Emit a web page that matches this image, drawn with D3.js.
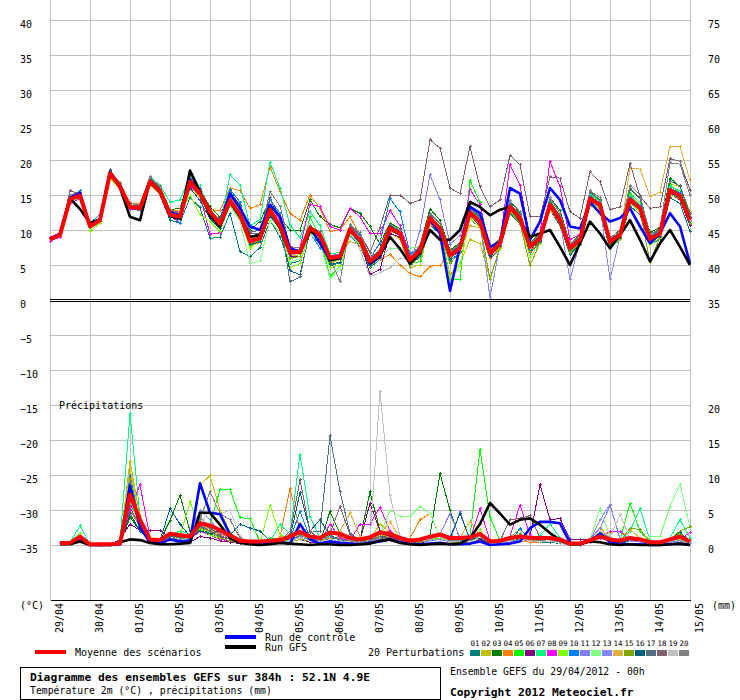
<!DOCTYPE html>
<html>
<head>
<meta charset="utf-8">
<script src="https://cdn.jsdelivr.net/npm/d3@7"></script>
<style>
body{margin:0;background:#fff;}
svg{display:block;font-family:"DejaVu Sans Mono",monospace;}
</style>
</head>
<body>
<div id="chart"></div>
<script>
// day labels, one per 24h
const dayLabels=["29/04","30/04","01/05","02/05","03/05","04/05","05/05","06/05","07/05",
    "08/05","09/05","10/05","11/05","12/05","13/05","14/05","15/05"];

// temperature 2m (°C), every 6h from 0h to 384h
const tempMean=[8.7,9.3,14.4,14.9,10.5,11.4,18.1,16.2,13.3,13.1,16.9,15.5,12.2,
    11.9,16.9,15.2,12.6,10.9,14.2,12.2,8.4,8.8,12.9,10.6,6.8,6.9,
    10.3,9.3,6.0,6.2,10.1,8.6,5.5,6.7,10.3,9.5,5.7,7.1,11.7,
    10.2,6.4,7.4,12.5,11.2,6.7,8.1,13.3,11.7,7.6,8.8,13.6,11.4,
    7.4,8.6,14.5,13.6,8.3,9.3,14.4,13.1,8.7,9.5,15.7,14.9,11.4];
const tempCtrl=[8.8,9.4,14.6,15.3,10.6,11.6,18.3,16.4,13.2,13.0,17.0,15.6,12.5,
    12.1,17.2,15.4,12.4,11.0,15.2,13.1,10.5,10.0,13.6,11.9,7.4,6.9,
    10.3,8.1,5.7,6.2,10.0,8.6,5.2,6.2,10.5,9.5,5.5,7.4,11.4,
    9.5,1.3,7.6,13.3,12.4,7.6,8.3,16.0,15.2,8.6,11.2,16.0,14.3,
    10.5,10.2,14.0,12.4,11.2,11.7,13.1,10.5,8.1,9.5,12.4,10.5,5.2];
const tempGfs=[8.7,9.4,14.5,13.0,11.0,11.5,18.3,16.0,11.9,11.4,17.0,15.6,12.0,
    11.6,18.5,15.5,12.0,10.5,14.0,12.0,9.0,9.3,12.8,10.3,6.7,6.8,
    9.8,9.3,5.7,6.0,10.0,8.4,5.3,6.4,9.0,7.3,5.2,6.7,10.0,
    8.6,8.6,10.0,14.0,13.3,12.1,12.9,13.3,11.4,9.0,9.5,10.0,7.6,
    5.0,8.1,11.2,9.5,7.4,9.3,11.4,8.6,5.5,8.1,10.0,7.6,5.0];
const tempPert=[
    // 01
    [8.6,9.2,14.2,14.8,10.3,11.2,17.8,15.9,13.0,12.8,16.5,15.0,11.4,
     11.0,14.6,13.2,8.8,9.0,12.4,6.9,6.2,7.5,11.4,9.0,5.2,5.6,
     9.4,8.1,4.9,5.3,9.2,7.6,4.6,5.8,9.5,8.8,4.9,6.2,10.8,
     9.4,5.6,6.8,11.6,10.3,5.9,7.3,12.4,10.8,6.8,8.2,12.9,10.6,
     6.5,7.9,13.6,12.5,7.4,8.6,13.4,12.2,7.9,8.7,14.6,13.8,9.8],
    // 02
    [8.8,9.4,14.5,15.0,10.6,11.5,17.6,16.8,13.6,13.4,17.2,15.9,12.7,
     12.3,16.2,14.6,12.0,10.4,13.5,11.6,7.8,8.2,12.1,10.0,6.2,6.5,
     9.6,8.8,5.2,5.8,9.6,7.8,4.8,6.1,9.6,8.7,4.6,5.0,10.9,
     9.6,3.6,5.3,8.6,8.1,3.0,7.6,12.9,11.2,7.2,8.4,13.2,11.0,
     6.9,8.1,14.0,13.2,7.8,8.8,14.0,12.7,8.2,9.2,16.6,16.2,12.6],
    // 03
    [8.9,9.5,14.6,15.1,10.7,11.6,18.4,16.5,13.4,13.3,17.4,15.8,12.9,
     13.1,17.4,15.8,13.3,11.8,15.6,13.4,10.0,11.2,14.4,11.8,10.0,10.0,
     14.3,11.9,10.8,10.3,13.1,12.4,10.5,8.0,11.0,10.2,6.0,7.8,13.0,
     11.4,7.1,8.2,13.6,12.0,7.4,8.9,14.2,12.4,8.2,9.4,14.6,12.8,
     8.0,9.4,15.4,14.3,8.8,10.0,15.8,14.6,9.6,10.4,17.4,16.2,12.0],
    // 04
    [8.7,9.3,14.3,14.9,10.5,11.4,17.9,16.6,13.9,13.7,17.3,16.3,12.9,
     12.7,17.8,15.7,12.9,12.8,16.0,15.6,13.1,13.6,19.0,15.5,12.4,11.4,
     15.0,13.1,9.8,10.0,11.9,9.2,6.8,5.8,6.5,5.0,3.8,3.3,4.8,
     5.0,6.6,7.3,11.6,10.4,6.0,7.5,12.6,11.0,7.0,8.2,12.9,10.9,
     6.9,8.3,14.2,13.4,8.4,9.0,14.8,13.5,9.0,9.9,15.4,14.4,10.8],
    // 05
    [8.8,9.4,14.4,15.0,10.4,11.5,18.2,16.4,13.5,13.2,17.0,15.4,12.0,
     12.2,17.1,15.5,12.3,10.6,14.6,12.5,7.9,8.4,13.4,10.8,5.9,6.2,
     11.9,9.0,3.3,4.9,9.4,7.9,4.9,6.4,10.8,10.0,5.2,5.5,12.4,
     10.9,2.9,2.9,17.1,13.9,6.9,8.5,13.7,12.0,7.8,9.1,14.1,11.9,
     7.8,9.0,15.0,14.1,8.6,9.6,15.2,13.9,9.4,10.2,16.5,15.3,11.6],
    // 06
    [8.6,9.2,14.3,14.7,10.8,11.7,17.9,16.0,13.6,13.4,16.7,15.2,12.8,
     12.4,16.5,15.0,12.7,10.7,14.1,12.4,8.7,9.0,12.4,10.1,6.3,6.2,
     10.0,9.1,5.8,6.4,9.9,8.6,3.6,4.4,9.5,9.0,5.3,6.6,11.0,
     9.8,6.0,7.0,12.0,10.6,6.2,7.8,12.8,11.4,7.3,8.5,13.0,11.0,
     7.1,8.3,14.2,13.3,8.0,9.0,14.0,12.8,8.4,9.3,15.2,14.3,10.6],
    // 07
    [8.9,9.5,14.7,15.2,10.6,11.6,18.0,16.0,13.8,13.5,17.6,16.4,14.0,
     14.3,17.7,16.3,12.3,10.6,17.9,16.4,10.6,11.5,19.7,16.0,10.7,8.9,
     12.6,10.6,6.6,6.8,10.4,9.6,5.9,6.9,10.0,9.7,5.8,7.6,12.0,
     10.6,6.7,7.7,13.0,11.5,7.0,8.3,13.8,12.2,7.9,9.1,14.3,11.8,
     7.6,8.9,15.2,14.1,8.6,9.6,14.9,13.6,9.1,9.9,16.2,15.6,11.9],
    // 08
    [8.4,9.0,13.8,14.5,10.4,11.3,17.6,15.8,13.0,12.9,16.6,15.4,12.0,
     11.0,16.4,14.9,9.4,9.6,14.8,12.8,8.6,8.9,13.6,11.4,7.6,7.5,
     13.7,13.3,10.5,10.0,13.1,11.9,9.5,9.5,12.8,10.6,6.4,7.5,11.2,
     9.6,6.2,7.4,15.8,13.6,6.9,8.2,19.3,16.4,8.8,9.6,19.8,16.2,
     8.6,9.4,14.8,13.4,8.6,9.2,14.6,13.3,8.9,9.6,16.0,15.1,11.0],
    // 09
    [8.8,9.4,14.0,14.6,9.8,11.0,17.4,15.9,13.5,13.2,16.4,15.0,11.8,
     12.4,15.0,12.2,11.2,9.8,13.6,11.8,7.4,8.6,12.6,10.8,4.6,5.2,
     9.8,8.6,4.6,5.0,9.6,8.2,4.9,6.4,10.6,9.6,5.5,7.4,11.6,
     9.8,3.1,4.9,11.6,10.4,2.9,7.3,12.8,11.2,6.1,8.1,13.0,11.2,
     6.8,8.2,14.0,13.0,7.5,8.6,13.8,12.6,7.9,8.9,15.6,15.0,11.4],
    // 10
    [8.9,9.6,14.6,15.6,11.0,12.2,18.5,16.6,13.6,13.3,17.1,15.9,12.6,
     11.0,17.6,15.9,12.4,11.6,15.8,14.0,9.0,9.6,14.3,12.4,7.2,6.9,
     9.6,7.4,6.2,6.6,10.6,9.2,5.9,8.2,14.5,12.6,6.6,7.6,11.8,
     10.4,6.9,7.8,12.9,11.4,7.1,8.6,13.3,11.9,7.9,9.0,13.8,11.6,
     7.6,8.8,14.8,13.9,8.5,9.5,14.6,13.4,9.0,9.8,16.0,15.3,11.8],
    // 11
    [8.8,9.3,14.2,15.0,10.5,11.3,18.0,16.2,13.4,13.0,16.8,15.4,12.1,
     11.8,16.6,15.1,12.3,10.7,14.3,12.6,8.8,9.1,13.2,10.8,7.1,7.2,
     10.6,9.5,6.4,6.5,10.2,8.8,5.6,7.0,10.2,10.0,5.0,10.0,17.9,
     14.3,8.0,9.2,12.8,11.4,6.6,8.6,13.5,11.9,7.6,8.9,13.9,11.7,
     7.6,8.6,14.7,13.8,8.4,9.4,14.5,13.2,8.8,9.6,15.8,15.0,11.6],
    // 12
    [8.7,9.3,14.4,15.0,10.6,11.4,17.8,16.0,13.4,13.2,16.6,15.2,12.0,
     11.7,16.9,15.6,12.1,10.2,13.4,11.3,5.2,5.6,11.4,9.6,5.4,5.9,
     9.4,8.2,3.1,4.4,9.3,8.0,5.0,6.0,7.4,7.4,7.4,7.6,11.4,
     10.0,6.4,7.4,12.4,11.0,6.8,8.0,13.1,11.5,7.4,8.8,13.4,11.2,
     7.2,8.5,14.4,13.5,8.3,9.2,14.2,13.0,8.5,9.4,15.4,14.6,11.2],
    // 13
    [8.6,9.2,14.3,14.8,10.4,11.3,17.9,16.1,13.2,13.1,16.8,15.4,12.2,
     11.8,16.7,15.2,12.6,10.8,14.2,12.3,8.4,8.8,12.8,10.4,6.7,6.8,
     10.1,9.2,5.8,6.0,9.9,8.4,5.4,6.6,10.0,9.3,5.4,6.9,11.5,
     9.9,6.2,7.2,12.4,11.0,0.3,7.9,13.0,11.4,7.3,8.6,13.4,11.2,
     2.9,8.4,14.3,13.4,2.9,9.1,14.2,12.9,8.5,9.3,15.5,14.7,11.2],
    // 14
    [8.7,9.3,14.5,15.0,10.6,11.5,18.3,16.8,13.8,13.6,17.4,16.0,12.6,
     12.0,17.6,15.8,12.5,11.4,14.9,12.6,8.8,9.0,13.0,10.6,7.0,7.0,
     10.4,9.4,6.2,6.4,8.4,7.8,5.2,6.0,9.8,9.4,6.0,7.0,10.8,
     10.2,6.6,7.2,10.6,10.3,6.4,7.9,12.6,11.2,7.2,8.6,13.2,11.4,
     7.4,8.4,14.0,13.3,8.2,9.1,18.9,18.7,14.8,15.4,22.0,21.9,17.1],
    // 15
    [8.8,9.4,14.4,14.9,10.4,11.4,17.6,16.1,13.5,13.4,17.0,15.5,12.3,
     12.0,16.8,15.2,12.6,10.9,13.9,12.0,8.0,8.4,12.4,10.2,6.0,6.2,
     9.8,8.8,5.4,5.8,9.8,8.4,5.4,6.4,10.4,9.6,4.6,6.8,11.2,
     9.8,5.2,6.8,12.0,10.8,3.0,7.6,12.6,11.0,4.9,8.2,13.1,11.0,
     6.8,8.2,14.2,13.2,7.9,8.8,14.0,12.8,5.4,9.0,15.2,14.4,11.0],
    // 16
    [8.7,9.3,14.6,15.1,10.6,11.4,18.0,16.2,13.2,12.9,16.6,15.1,11.8,
     11.6,16.0,14.2,11.6,10.2,13.8,11.6,7.9,8.3,12.0,10.2,4.2,3.6,
     9.8,8.6,5.1,5.4,9.6,8.2,4.9,6.1,10.0,9.2,5.6,7.0,11.4,
     10.0,6.0,7.2,12.2,10.9,6.4,7.8,13.0,11.4,7.2,8.4,13.3,11.2,
     7.2,8.4,14.3,13.4,8.1,9.0,14.0,12.9,8.4,9.1,15.3,14.6,11.2],
    // 17
    [8.8,9.4,14.8,15.2,10.8,11.6,18.6,16.4,13.6,13.4,17.3,15.8,12.4,
     12.1,17.3,15.5,13.0,11.2,15.4,13.6,9.8,9.9,14.6,11.5,2.6,3.3,
     10.0,9.0,5.6,5.8,10.4,9.4,5.8,7.0,10.8,9.8,6.2,7.6,12.2,
     10.9,6.8,7.8,13.2,11.8,7.0,8.6,13.8,12.2,7.9,9.2,14.2,12.0,
     7.8,9.0,15.4,14.2,8.7,9.7,16.0,14.5,9.2,10.0,17.0,16.3,12.4],
    // 18
    [8.8,9.4,15.6,15.2,10.8,11.5,18.4,16.6,13.6,13.3,17.5,16.0,12.8,
     12.5,17.6,15.6,13.0,11.0,14.9,12.9,9.6,9.4,13.4,11.6,7.2,7.0,
     10.5,9.8,6.4,6.4,10.6,9.6,6.8,10.4,15.0,15.0,13.8,14.3,22.9,
     21.7,16.0,15.2,21.9,16.2,13.3,14.3,20.7,19.3,11.9,11.9,17.6,17.4,
     12.6,11.7,18.3,16.9,12.9,13.3,19.5,14.8,13.1,13.3,20.2,19.8,15.7],
    // 19
    [8.7,9.3,14.3,14.8,10.5,11.3,17.8,16.0,13.1,12.9,16.8,15.3,12.0,
     11.8,16.6,15.0,12.4,10.8,14.0,12.2,8.4,8.8,13.0,10.6,6.8,6.9,
     10.2,9.2,5.9,6.1,9.9,7.2,3.3,3.9,4.6,6.0,5.8,7.0,11.4,
     10.0,6.2,7.2,12.4,11.0,6.6,8.0,13.2,11.6,7.4,8.7,13.5,11.3,
     7.3,8.5,14.4,13.5,8.2,9.2,14.3,13.0,8.6,9.4,15.6,14.8,11.3],
    // 20
    [8.8,9.4,15.0,15.4,10.8,11.6,18.4,16.6,13.8,13.6,17.6,16.2,12.6,
     12.4,17.4,15.8,12.8,11.4,15.0,12.8,9.0,9.4,15.5,13.4,7.6,7.4,
     10.4,9.0,6.0,2.6,10.8,9.6,6.0,7.2,10.6,10.0,6.2,7.8,12.4,
     11.0,7.0,8.0,13.4,12.0,7.2,8.8,14.2,12.6,8.0,9.4,14.6,12.4,
     8.0,9.2,15.6,14.6,8.9,9.9,16.4,15.0,9.4,10.2,19.6,19.4,15.0]
];

// precipitation (mm per 6h), from 6h to 384h
const precMean=[0.3,0.3,1.2,0.1,0.1,0.1,0.2,7.2,3.6,0.8,0.7,1.6,1.4,1.2,3.1,2.8,
    2.1,1.4,0.6,0.5,0.5,0.6,0.7,1.2,1.9,1.2,1.0,1.8,1.6,1.0,0.8,1.1,
    1.8,1.6,1.0,0.6,0.8,1.2,1.5,1.0,1.0,1.1,1.6,0.5,0.6,1.0,1.2,1.0,
    1.0,1.0,0.8,0.2,0.2,0.7,1.2,0.8,0.6,1.0,0.8,0.4,0.4,0.8,1.2,0.5];
const precCtrl=[0.2,0.2,0.6,0.0,0.0,0.0,0.1,8.5,2.5,0.4,0.2,0.8,0.5,0.6,8.8,4.6,
    4.4,1.5,0.5,0.2,0.1,0.2,0.4,0.2,3.0,0.8,0.2,0.5,0.3,0.2,0.1,0.3,
    0.5,0.8,0.4,0.2,0.1,0.2,0.3,0.1,0.1,0.2,0.5,0.0,0.1,0.2,0.5,2.4,
    3.3,3.3,3.1,0.3,0.2,0.6,1.6,0.4,0.2,0.1,0.1,0.0,0.0,0.1,0.2,0.0];
const precGfs=[0.1,0.1,0.5,0.0,0.0,0.0,0.4,0.8,0.7,0.3,0.1,0.1,0.2,0.3,4.6,4.6,
    2.9,1.0,0.3,0.1,0.0,0.1,0.3,0.2,0.1,0.0,0.1,0.1,0.0,0.0,0.1,0.2,
    0.6,0.8,0.3,0.1,0.0,0.1,0.2,0.1,0.2,1.0,3.0,6.0,4.5,2.9,3.6,3.8,
    2.9,1.7,0.7,0.1,0.1,0.5,0.4,0.1,0.0,0.1,0.0,0.0,0.0,0.1,0.2,0.0];
const precPert=[
    // 01
    [0.3,0.3,1.2,0.0,0.0,0.0,0.1,5.5,2.4,0.4,0.3,1.2,1.0,0.8,2.2,1.8,
     1.0,0.6,0.2,0.1,0.1,0.3,0.4,0.8,1.2,0.6,0.4,1.0,0.8,0.4,0.2,0.5,
     1.0,1.4,0.6,0.2,0.4,0.8,1.0,0.4,0.6,0.4,1.2,0.2,0.2,0.6,1.0,0.6,
     0.4,0.4,0.2,0.0,0.0,0.6,1.6,0.4,0.2,0.6,0.4,0.1,0.2,0.6,1.0,0.2],
    // 02
    [0.2,0.2,1.6,0.0,0.0,0.0,0.2,12.0,4.0,0.6,0.4,1.0,0.8,1.2,8.6,9.9,
     5.0,1.8,0.4,0.2,0.2,0.4,0.6,1.0,1.6,0.8,0.6,1.2,1.0,0.6,0.4,0.8,
     3.0,1.8,0.8,0.4,0.6,0.8,1.6,0.6,0.4,0.6,1.4,0.2,0.4,1.2,2.2,1.0,
     0.6,0.8,0.4,0.0,0.0,0.8,2.5,1.0,0.4,0.8,0.6,0.2,0.2,0.8,1.6,0.4],
    // 03
    [0.2,0.2,1.0,0.0,0.0,0.0,0.1,4.0,2.0,0.6,0.6,3.5,7.1,2.0,2.4,1.6,
     1.2,0.8,0.4,0.2,0.1,0.2,0.4,0.6,1.0,0.6,0.4,4.8,1.6,0.6,0.8,7.6,
     2.0,1.0,0.6,0.4,0.6,1.4,10.2,5.0,0.8,0.4,1.0,0.2,0.4,0.6,0.8,0.6,
     0.6,0.8,0.4,0.0,0.0,0.6,1.4,0.6,0.4,1.0,0.8,0.2,0.2,0.4,0.6,0.2],
    // 04
    [0.3,0.3,1.4,0.0,0.0,0.0,0.1,5.0,2.6,0.4,0.2,0.8,0.6,1.0,3.0,2.4,
     1.6,1.0,0.2,0.1,0.1,0.2,1.2,8.1,2.0,0.6,0.4,1.0,1.2,0.6,0.4,0.6,
     1.4,1.2,0.8,1.0,3.6,4.5,1.2,0.4,0.4,0.2,0.8,0.2,0.2,0.4,0.6,0.4,
     0.4,0.6,0.2,0.0,0.0,0.8,1.2,1.8,2.0,0.8,0.6,0.2,0.1,0.4,0.8,0.2],
    // 05
    [0.2,0.2,0.8,0.0,0.0,0.0,0.1,6.0,2.8,0.6,0.4,1.6,1.0,1.4,2.8,3.0,
     7.9,7.9,3.9,3.8,0.4,1.0,0.8,0.6,1.0,0.8,0.4,1.2,0.8,0.6,0.2,0.6,
     1.2,0.8,0.6,0.2,0.4,0.8,1.2,0.4,0.6,1.2,13.7,4.0,0.6,1.0,1.2,0.8,
     0.6,1.0,0.4,0.0,0.0,0.6,1.8,0.8,0.6,6.0,2.0,0.4,0.2,0.6,1.4,0.4],
    // 06
    [0.2,0.2,1.0,0.0,0.0,0.0,0.8,3.0,2.1,2.1,2.1,1.0,0.6,0.4,1.2,1.0,
     0.6,0.4,0.2,0.1,0.1,0.2,0.3,0.4,0.8,0.4,0.3,0.6,0.4,0.3,0.6,6.0,
     2.0,1.2,0.6,0.2,0.3,0.6,0.8,0.4,0.4,0.2,0.8,0.1,0.2,0.6,1.0,1.2,
     8.6,3.6,3.8,0.8,0.8,0.8,1.0,0.6,0.4,0.6,0.4,0.2,0.2,0.6,0.8,0.2],
    // 07
    [0.3,0.3,2.8,0.0,0.0,0.0,0.4,18.8,4.0,0.6,0.4,1.4,2.0,1.6,2.6,1.8,
     1.2,0.8,0.4,0.2,0.2,0.6,2.9,1.6,12.9,4.0,1.0,1.2,0.8,0.6,0.6,0.8,
     1.0,0.8,0.6,0.2,0.4,0.6,1.0,0.4,0.4,0.6,1.4,0.2,0.2,0.6,1.0,0.8,
     1.4,3.0,1.0,0.0,0.0,0.8,1.6,0.8,0.6,2.0,5.2,0.6,0.2,1.0,3.6,1.0],
    // 08
    [0.2,0.2,1.2,0.0,0.0,0.0,0.2,5.0,8.6,1.0,0.4,0.8,0.6,0.8,2.0,1.4,
     0.8,0.6,0.2,0.1,0.1,0.2,0.4,0.4,0.8,0.6,0.4,3.0,1.0,0.6,3.0,3.0,
     5.4,2.0,1.0,0.6,0.8,0.6,1.0,0.4,0.6,0.8,5.2,0.6,0.4,1.2,5.7,1.4,
     0.6,0.8,0.4,0.0,0.0,0.4,1.0,2.0,2.0,0.6,0.4,0.2,0.2,0.6,0.8,1.8],
    // 09
    [0.3,0.3,1.6,0.0,0.0,0.0,0.2,10.5,3.2,0.4,0.2,0.8,1.2,6.2,2.2,1.4,
     1.0,0.6,0.2,0.1,0.2,5.7,1.5,0.6,1.0,0.6,0.4,0.8,0.6,0.4,0.4,0.6,
     1.0,0.8,0.6,0.2,0.4,0.6,1.0,0.4,0.6,0.4,2.2,0.2,0.2,0.6,1.0,0.6,
     0.4,0.6,0.2,0.0,0.0,0.6,1.4,0.6,0.4,1.0,0.6,0.1,0.2,0.4,0.8,0.2],
    // 10
    [0.2,0.2,1.0,0.0,0.0,0.0,0.2,10.0,3.0,0.6,0.4,1.0,0.6,0.8,2.6,2.0,
     1.2,0.8,0.2,0.1,0.1,0.2,0.6,0.8,4.8,1.0,0.6,0.8,0.6,0.4,0.2,0.4,
     0.8,0.6,0.4,0.2,0.4,0.6,0.8,0.4,0.4,0.6,1.2,0.2,0.2,0.4,2.4,0.6,
     0.4,0.6,0.2,0.0,0.0,0.8,1.6,0.6,0.4,0.6,0.4,0.1,0.1,0.4,0.6,0.2],
    // 11
    [0.2,0.2,1.0,0.0,0.0,0.0,0.1,7.5,3.0,0.6,0.4,1.0,0.8,1.6,5.0,3.6,
     1.8,1.0,0.4,0.1,0.1,0.2,0.4,0.6,1.0,0.6,0.4,0.8,0.6,0.4,0.4,0.6,
     1.0,0.8,0.6,0.4,0.6,1.2,1.6,4.5,1.0,0.6,1.0,0.2,0.2,0.6,1.0,0.6,
     0.4,0.6,0.4,0.0,0.0,0.8,2.4,5.6,1.0,0.6,0.6,0.2,0.2,0.6,1.0,0.4],
    // 12
    [0.3,0.3,1.4,0.0,0.0,0.0,0.2,8.5,3.2,0.6,0.4,1.0,0.8,1.0,2.4,1.8,
     1.0,0.6,0.2,0.1,0.1,0.2,0.4,0.6,1.0,0.6,0.4,0.8,0.6,0.4,0.2,0.6,
     1.4,5.0,4.1,4.1,5.5,4.5,1.2,0.6,0.4,0.4,1.0,0.2,0.2,0.6,1.0,0.6,
     0.4,0.6,0.2,0.0,0.0,0.8,5.2,1.2,0.6,1.0,0.8,1.2,1.2,5.5,8.7,2.5],
    // 13
    [0.2,0.2,1.0,0.0,0.0,0.0,0.1,7.0,2.6,0.4,0.2,0.8,0.6,1.0,4.0,2.6,
     2.2,1.2,0.4,0.1,0.1,0.2,0.4,0.6,1.2,0.6,0.4,0.8,0.6,0.4,0.2,0.6,
     0.8,0.6,0.4,0.2,0.4,0.6,0.8,0.4,4.8,0.6,1.0,0.2,0.2,0.4,0.8,0.6,
     0.4,0.6,0.2,0.0,0.0,0.6,3.6,5.8,0.8,0.6,0.4,0.2,0.1,0.4,0.6,0.2],
    // 14
    [0.3,0.3,1.4,0.0,0.0,0.0,0.2,11.0,4.2,0.8,0.4,1.0,0.8,1.2,3.0,2.2,
     1.2,0.8,0.2,0.1,0.1,0.2,0.4,0.6,1.0,0.6,0.4,1.2,2.0,4.6,1.2,0.6,
     1.6,3.3,1.0,0.4,0.6,0.8,1.2,0.4,1.0,3.4,1.4,0.4,0.2,0.6,1.0,0.6,
     0.4,0.6,0.2,0.0,0.0,0.6,1.4,0.8,0.6,2.2,1.0,0.2,0.2,0.6,1.0,0.4],
    // 15
    [0.3,0.3,1.2,0.0,0.0,0.0,0.1,9.5,3.0,0.6,0.4,0.8,0.6,1.0,2.4,2.0,
     1.0,0.6,0.2,0.1,0.1,0.3,0.6,0.4,0.8,0.6,0.4,0.8,0.6,0.4,0.2,0.6,
     1.0,0.8,0.6,0.2,0.4,0.8,1.2,0.4,0.4,0.4,1.6,0.2,0.2,0.8,1.6,0.8,
     0.4,0.6,0.2,0.0,0.0,0.6,2.0,1.0,0.6,2.4,2.2,0.4,0.2,0.8,2.0,2.6],
    // 16
    [0.2,0.2,0.8,0.0,0.0,0.0,0.1,4.5,2.0,0.6,0.6,5.2,3.0,1.2,2.0,1.6,
     2.0,1.4,3.0,2.4,2.0,0.6,0.8,1.0,7.5,2.0,3.6,1.4,0.8,0.6,0.4,0.6,
     1.2,0.8,0.6,0.4,0.6,0.8,1.4,1.0,4.5,0.8,1.0,0.2,0.2,0.6,1.0,0.6,
     0.4,0.6,0.2,0.0,0.0,0.6,1.4,0.6,0.4,0.8,0.6,0.2,0.2,0.8,1.8,0.6],
    // 17
    [0.3,0.3,1.2,0.0,0.0,0.0,0.2,8.0,3.0,0.6,0.4,1.4,1.0,1.2,3.2,2.4,
     1.4,0.8,0.4,0.2,0.2,0.4,0.6,2.0,1.4,1.8,2.0,15.6,7.6,1.7,0.6,0.8,
     1.0,0.8,0.6,0.4,0.6,0.8,1.2,0.4,0.6,1.0,1.6,0.4,0.4,1.2,1.4,0.8,
     0.6,0.8,0.4,0.0,0.0,0.8,1.6,0.8,0.6,1.0,0.8,0.2,0.2,0.6,1.0,0.4],
    // 18
    [0.2,0.2,1.0,0.0,0.0,0.0,0.1,7.0,2.8,0.4,0.2,0.8,0.6,1.0,2.8,2.0,
     1.2,0.8,0.2,0.1,0.1,0.2,0.6,1.6,9.3,2.0,0.8,1.6,5.5,1.5,0.6,0.8,
     1.2,1.0,0.6,0.4,0.6,0.8,1.4,0.6,0.6,0.8,1.6,0.4,0.6,3.6,3.8,4.2,
     1.0,0.8,0.4,0.0,0.0,0.8,1.8,1.0,0.6,0.8,0.6,0.2,0.2,0.6,1.0,0.4],
    // 19
    [0.2,0.2,1.0,0.0,0.0,0.0,0.1,6.5,2.4,0.4,0.2,0.8,0.6,1.0,3.0,5.0,
     4.4,5.0,1.2,0.4,0.2,0.2,0.4,0.6,1.0,0.6,0.4,0.8,0.6,0.4,0.2,0.6,
     21.9,7.1,1.2,0.4,0.6,0.8,1.2,0.4,0.6,0.4,1.2,0.2,0.2,0.6,1.0,0.6,
     0.4,0.6,0.2,0.0,0.0,0.6,2.0,1.2,4.3,1.0,0.6,0.2,0.2,0.6,1.0,0.4],
    // 20
    [0.3,0.3,1.2,0.0,0.0,0.0,0.2,9.0,3.2,0.6,0.4,1.0,0.8,1.2,3.6,7.6,
     4.5,3.6,1.0,0.4,0.2,0.4,0.6,0.8,1.4,0.8,0.6,1.2,0.8,0.6,0.4,0.6,
     1.0,0.8,0.6,0.4,0.6,1.0,1.4,0.6,0.6,0.8,1.4,0.4,0.4,0.8,1.2,0.8,
     0.6,0.8,0.4,0.0,0.0,0.6,1.6,0.8,0.6,1.0,0.8,0.2,0.2,0.8,1.2,0.6]
];

const pertColors=["#008080","#c0c000","#008000","#ff8000","#00ff00","#800080","#00ff80",
    "#ff00ff","#80ff00","#0080ff","#8080ff","#80ff80","#8888ff","#e0b040","#80a800",
    "#006080","#507080","#806070","#c0c0c0","#808080"];
const leftTicks=d3.range(-35,41,5);
const rightTicks=[0,5,10,15,20,35,40,45,50,55,60,65,70,75];

const W=740, H=700;
const svg=d3.select("#chart").append("svg")
    .attr("width", W)
    .attr("height", H);

const x=d3.scaleLinear().domain([0, 384]).range([50, 690]);
const yT=d3.scaleLinear().domain([-35, 40]).range([545, 20]);
// right scale: 35..75 matches 0..40 °C, and 0..20 is mm of rain
const yR=d3.scaleLinear().domain([0, 75]).range([545, 20]);

// vertical grid + date labels
const gx=svg.append("g")
    .attr("transform", "translate(0,600)")
    .call(d3.axisBottom(x).tickValues(d3.range(0, 385, 24)).tickSize(-600).tickSizeOuter(0)
        .tickFormat((d, i) => dayLabels[i]));
gx.attr("font-family", null).attr("font-size", 10);
gx.select(".domain").attr("stroke", "#000").attr("shape-rendering", "crispEdges");
gx.selectAll(".tick line").attr("stroke", "#c0c0c0").attr("shape-rendering", "crispEdges");
gx.selectAll(".tick text")
    .attr("transform", "rotate(-90)")
    .attr("text-anchor", "end")
    .attr("x", -3)
    .attr("y", 12)
    .attr("dy", null)
    .attr("fill", "#000");

// horizontal grid + left labels
const gy=svg.append("g")
    .attr("transform", "translate(50,0)")
    .call(d3.axisLeft(yT).tickValues(leftTicks).tickSize(-640).tickSizeOuter(0));
gy.attr("font-family", null).attr("font-size", 10);
gy.select(".domain").attr("stroke", "#c0c0c0").attr("shape-rendering", "crispEdges");
gy.selectAll(".tick line")
    .attr("stroke", d => d===0? "none":"#c0c0c0")
    .attr("shape-rendering", "crispEdges");
gy.selectAll(".tick text")
    .attr("text-anchor", "start")
    .attr("x", -30)
    .attr("y", 7)
    .attr("dy", null)
    .attr("fill", "#000");

// right labels
const gr=svg.append("g")
    .attr("transform", "translate(690,0)")
    .call(d3.axisRight(yR).tickValues(rightTicks).tickSize(0));
gr.attr("font-family", null).attr("font-size", 10);
gr.select(".domain").remove();
gr.selectAll(".tick text")
    .attr("x", 18)
    .attr("y", 7)
    .attr("dy", null)
    .attr("fill", "#000");

// double zero line
[-1, 1].forEach(o => {
    svg.append("line")
        .attr("x1", 50).attr("x2", 690)
        .attr("y1", yT(0)+o).attr("y2", yT(0)+o)
        .attr("stroke", "#000")
        .attr("shape-rendering", "crispEdges");
});

const lineT=d3.line().x((d, i) => x(i*6)).y(d => yT(d));
const lineP=d3.line().x((d, i) => x((i+1)*6)).y(d => yR(d));

function crosses (vals, xf, yf) {
    return vals.map((v, i) => {
        const px=xf(i), py=yf(v);
        return `M${px-1.5},${py}h3M${px},${py-1.5}v3`;
    }).join("");
}

const plot=svg.append("g").attr("fill", "none");

pertColors.forEach((c, j) => {
    const g=plot.append("g").attr("stroke", c).attr("stroke-width", 1).attr("shape-rendering", "crispEdges");
    g.append("path").attr("d", lineT(tempPert[j]));
    g.append("path").attr("d", crosses(tempPert[j], i => x(i*6), yT));
    g.append("path").attr("d", lineP(precPert[j]));
    g.append("path").attr("d", crosses(precPert[j], i => x((i+1)*6), yR));
});

const mains=[
    [tempCtrl, precCtrl, "#0000ff", 2.6],
    [tempGfs, precGfs, "#000000", 2.6],
    [tempMean, precMean, "#ff0000", 4]
];
mains.forEach(([t, p, c, w]) => {
    plot.append("path").attr("d", lineT(t)).attr("stroke", c).attr("stroke-width", w).attr("stroke-linejoin", "round");
    plot.append("path").attr("d", lineP(p)).attr("stroke", c).attr("stroke-width", w).attr("stroke-linejoin", "round");
});

// texts
function txt (s, tx, ty, size, bold) {
    return svg.append("text")
        .attr("x", tx).attr("y", ty)
        .attr("font-size", size)
        .attr("font-weight", bold? "bold":"normal")
        .attr("fill", "#000")
        .text(s);
}

txt("Précipitations", 59, 409, 10);
txt("(°C)", 20, 609, 10);
txt("(mm)", 712, 609, 10);

// legend
svg.append("rect").attr("x", 35).attr("y", 650).attr("width", 31).attr("height", 4).attr("fill", "#ff0000");
txt("Moyenne des scénarios", 75, 656, 10);
svg.append("rect").attr("x", 225).attr("y", 635).attr("width", 31).attr("height", 4).attr("fill", "#0000ff");
txt("Run de contrôle", 265, 641, 10);
svg.append("rect").attr("x", 225).attr("y", 645).attr("width", 31).attr("height", 4).attr("fill", "#000000");
txt("Run GFS", 265, 651, 10);
txt("20 Perturbations", 368, 656, 10);

svg.selectAll(".sw")
    .data(pertColors)
    .enter().append("rect")
    .attr("class", "sw")
    .attr("x", (d, i) => 470+i*11)
    .attr("y", 650)
    .attr("width", 10)
    .attr("height", 6)
    .attr("fill", d => d);

svg.selectAll(".swl")
    .data(pertColors)
    .enter().append("text")
    .attr("class", "swl")
    .attr("x", (d, i) => 475+i*11)
    .attr("y", 646)
    .attr("text-anchor", "middle")
    .attr("font-size", 7.5)
    .attr("fill", "#000")
    .text((d, i) => String(i+1).padStart(2, "0"));

// title box
svg.append("rect")
    .attr("x", 20.5).attr("y", 667.5)
    .attr("width", 420).attr("height", 32)
    .attr("fill", "none").attr("stroke", "#000");
txt("Diagramme des ensembles GEFS sur 384h : 52.1N 4.9E", 30, 681, 11.3, true);
txt("Température 2m (°C) , précipitations (mm)", 30, 694, 9.8);
txt("Ensemble GEFS du 29/04/2012 - 00h", 450, 675, 9.8);
txt("Copyright 2012 Meteociel.fr", 450, 696, 11.3, true);
</script>
</body>
</html>
